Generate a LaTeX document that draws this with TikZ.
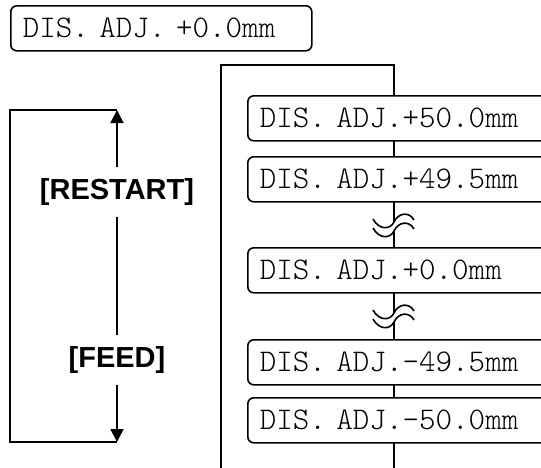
\documentclass[tikz,border=0pt]{standalone}
\usepackage{fontspec}
\usetikzlibrary{arrows.meta}
\newfontfamily\keyfont{Liberation Sans}
\newcommand\dispfont{\ttfamily\fontseries{l}\fontsize{31.5}{36}\selectfont\frenchspacing}
\tikzset{
  breakmark/.pic={
    % white gap between the two waves
    \fill[white] (-21,-3) .. controls (-15,8) and (-4,8) .. (0,0)
      .. controls (4,-9) and (15,-11) .. (20,-2) -- (20,7)
      .. controls (15,-2) and (4,0) .. (0,9)
      .. controls (-4,17) and (-15,17) .. (-21,6) -- cycle;
    \draw[line width=1.6pt] (-21,-3) .. controls (-15,8) and (-4,8) .. (0,0)
      .. controls (4,-9) and (15,-11) .. (20,-2);
    \draw[line width=1.6pt] (-21,6) .. controls (-15,17) and (-4,17) .. (0,9)
      .. controls (4,0) and (15,-2) .. (20,7);
  }
}
\begin{document}
\begin{tikzpicture}[x=1pt, y=-1pt,
    lcdbox/.style={draw, line width=1.6pt, rounded corners=6pt, fill=white,
      minimum height=45pt, inner xsep=12pt, inner ysep=0pt, align=left, font=\dispfont},
    keylabel/.style={font=\keyfont\bfseries\fontsize{29}{32}\selectfont, inner xsep=2pt, inner ysep=11pt},
    flowline/.style={line width=1.6pt},
    flowarrow/.style={flowline, -{Triangle[length=13pt, width=13pt]}}]
  \useasboundingbox (0,0) rectangle (541,467);
  \clip (0,0) rectangle (541,467);

  % current setting
  \node[lcdbox, anchor=north west, minimum width=301pt, text width=277pt] (current) at (10,5) {DIS. ADJ. +0.0mm};

  % key loop
  \coordinate (tl) at (10,110);
  \coordinate (tr) at (117,110);
  \coordinate (bl) at (10,442);
  \coordinate (br) at (117,442);
  \node[keylabel] (restart) at (117,192) {[RESTART]};
  \node[keylabel] (feed) at (117,360) {[FEED]};
  \draw[flowline] (tr) -- (tl) -- (bl) -- (br);
  \draw[flowarrow] (restart.north) -- (tr);
  \draw[flowline] (restart.south) -- (feed.north);
  \draw[flowarrow] (feed.south) -- (br);

  % frame behind the list
  \coordinate (fl) at (221,470);
  \coordinate (ftl) at (221,65);
  \coordinate (ftr) at (394,65);
  \coordinate (fr) at (394,470);
  \draw[flowline] (fl) -- (ftl) -- (ftr) -- (fr);

  % settings list
  \node[lcdbox, anchor=north west, minimum width=360pt, text width=336pt] (max) at (247,95) {DIS. ADJ.+50.0mm};
  \node[lcdbox, anchor=north west, minimum width=360pt, text width=336pt] (maxstep) at (247,156) {DIS. ADJ.+49.5mm};
  \node[lcdbox, anchor=north west, minimum width=360pt, text width=336pt] (zero) at (247,247) {DIS. ADJ.+0.0mm};
  \node[lcdbox, anchor=north west, minimum width=360pt, text width=336pt] (minstep) at (247,339) {DIS. ADJ.-49.5mm};
  \node[lcdbox, anchor=north west, minimum width=360pt, text width=336pt] (min) at (247,397) {DIS. ADJ.-50.0mm};

  % omitted steps
  \pic at (394,222) {breakmark};
  \pic at (394,313) {breakmark};
\end{tikzpicture}
\end{document}
